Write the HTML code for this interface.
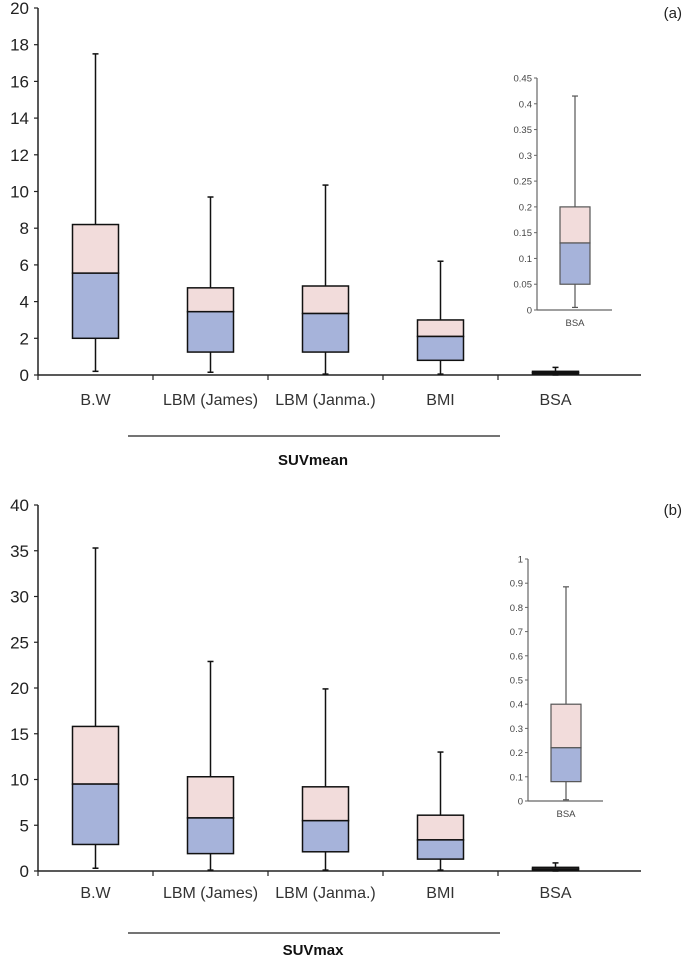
<!DOCTYPE html>
<html><head><meta charset="utf-8">
<style>
body{margin:0;background:#fff;}
svg{display:block;font-family:"Liberation Sans",Arial,sans-serif;}
</style></head>
<body>
<svg id="c" width="685" height="966" viewBox="0 0 685 966"></svg>
<script>
const categories = ["B.W","LBM (James)","LBM (Janma.)","BMI","BSA"];
// [min, q1, median, q3, max]
const meanMin = [0.2, 0.15, 0.05, 0.05, 0.005];
const meanQ1  = [2.0, 1.25, 1.25, 0.8, 0.05];
const meanMed = [5.55, 3.45, 3.35, 2.1, 0.13];
const meanQ3  = [8.2, 4.75, 4.85, 3.0, 0.2];
const meanMax = [17.5, 9.7, 10.35, 6.2, 0.415];
const maxMin = [0.3, 0.1, 0.1, 0.1, 0.005];
const maxQ1  = [2.9, 1.9, 2.1, 1.3, 0.08];
const maxMed = [9.5, 5.8, 5.5, 3.4, 0.22];
const maxQ3  = [15.8, 10.3, 9.2, 6.1, 0.4];
const maxMax = [35.3, 22.9, 19.9, 13.0, 0.885];
const meanTicks = [0,2,4,6,8,10,12,14,16,18,20];
const maxTicks = [0,5,10,15,20,25,30,35,40];
const meanInsetTicks = [0,0.05,0.1,0.15,0.2,0.25,0.3,0.35,0.4,0.45];
const maxInsetTicks = [0,0.1,0.2,0.3,0.4,0.5,0.6,0.7,0.8,0.9,1];

const NS="http://www.w3.org/2000/svg";
const svg=document.getElementById('c');
function el(tag,attrs,parent,text){
  const e=document.createElementNS(NS,tag);
  for(const k in attrs)e.setAttribute(k,attrs[k]);
  if(text!==undefined)e.textContent=text;
  (parent||svg).appendChild(e);return e;
}
const PINK="#f2dcdb", BLUE="#a6b3da";

function drawBox(g,cx,w,ys,q,stroke,sw,name){
  const [mn,q1,md,q3,mx]=q;
  const b=el('g',{},g);
  
  
  el('line',{x1:cx,x2:cx,y1:ys(mx),y2:ys(q3),stroke:stroke,'stroke-width':sw},b);
  el('line',{x1:cx,x2:cx,y1:ys(q1),y2:ys(mn),stroke:stroke,'stroke-width':sw},b);
  el('line',{x1:cx-3,x2:cx+3,y1:ys(mx),y2:ys(mx),stroke:stroke,'stroke-width':sw},b);
  el('line',{x1:cx-3,x2:cx+3,y1:ys(mn),y2:ys(mn),stroke:stroke,'stroke-width':sw},b);
  el('rect',{x:cx-w/2,y:ys(q3),width:w,height:Math.max(0.5,ys(md)-ys(q3)),fill:PINK,stroke:stroke,'stroke-width':sw},b);
  el('rect',{x:cx-w/2,y:ys(md),width:w,height:Math.max(0.5,ys(q1)-ys(md)),fill:BLUE,stroke:stroke,'stroke-width':sw},b);
}

function panel(cfg){
  const g=el('g',{});
  
  
  const ax=38, y0=cfg.y0, yTop=cfg.yTop, vmax=cfg.ticks[cfg.ticks.length-1];
  const ys=v=>y0-(v/vmax)*(y0-yTop);
  const cw=115;
  const ya=el('g',{},g);
  
  
  el('line',{x1:ax,x2:ax,y1:yTop,y2:y0,stroke:'#222','stroke-width':1.5},ya);
  cfg.ticks.forEach(t=>{
    el('line',{x1:ax-4,x2:ax,y1:ys(t),y2:ys(t),stroke:'#222','stroke-width':1.2},ya);
    const tx=el('text',{x:ax-9,y:ys(t)+6,'text-anchor':'end','font-size':17,fill:'#222'},ya,String(t));
    
    
  });
  const xa=el('g',{},g);
  
  
  el('line',{x1:ax,x2:641,y1:y0,y2:y0,stroke:'#222','stroke-width':1.5},xa);
  for(let i=0;i<=4;i++){el('line',{x1:ax+cw*i,x2:ax+cw*i,y1:y0,y2:y0+5,stroke:'#222','stroke-width':1.2},xa);}
  categories.forEach((c,i)=>{
    const tx=el('text',{x:ax+cw*(i+0.5),y:y0+cfg.labOff,'text-anchor':'middle','font-size':16,fill:'#333'},xa,c);
    
    
  });
  categories.forEach((c,i)=>{
    drawBox(g,ax+cw*(i+0.5),46,ys,[cfg.mn[i],cfg.q1[i],cfg.md[i],cfg.q3[i],cfg.mx[i]],'#111',1.5,'box-'+i);
  });
  el('line',{x1:128,x2:500,y1:cfg.lineY,y2:cfg.lineY,stroke:'#222','stroke-width':1.2},g);
  const tt=el('text',{x:313,y:cfg.lineY+cfg.titleOff,'text-anchor':'middle','font-size':15,'font-weight':'bold',fill:'#111'},g,cfg.title);
  
  
  const pl=el('text',{x:682,y:cfg.yTop+10,'text-anchor':'end','font-size':15,fill:'#222'},g,cfg.tag);
  
  
  const ig=el('g',{},g);
  
  
  const iax=cfg.inX, iy0=cfg.inY0, iyT=cfg.inYT, ivmax=cfg.inTicks[cfg.inTicks.length-1];
  const iys=v=>iy0-(v/ivmax)*(iy0-iyT);
  el('line',{x1:iax,x2:iax,y1:iyT,y2:iy0,stroke:'#666','stroke-width':1.2},ig);
  el('line',{x1:iax,x2:iax+75,y1:iy0,y2:iy0,stroke:'#666','stroke-width':1.2},ig);
  cfg.inTicks.forEach(t=>{
    el('line',{x1:iax-3,x2:iax,y1:iys(t),y2:iys(t),stroke:'#666','stroke-width':1},ig);
    el('text',{x:iax-5,y:iys(t)+3.5,'text-anchor':'end','font-size':9.5,fill:'#444'},ig,String(t));
  });
  const i=4;
  drawBox(ig,iax+38,30,iys,[cfg.mn[i],cfg.q1[i],cfg.md[i],cfg.q3[i],cfg.mx[i]],'#555',1.2,'inset-box-bsa');
  el('text',{x:iax+38,y:iy0+16,'text-anchor':'middle','font-size':9.5,fill:'#444'},ig,'BSA');
}

panel({name:'suvmean-panel',y0:375,yTop:8,ticks:meanTicks,labOff:30,lineY:436,titleOff:29,title:'SUVmean',tag:'(a)',
  mn:meanMin,q1:meanQ1,md:meanMed,q3:meanQ3,mx:meanMax,inX:537,inY0:310,inYT:78,inTicks:meanInsetTicks});
panel({name:'suvmax-panel',y0:871,yTop:505,ticks:maxTicks,labOff:27,lineY:933,titleOff:22,title:'SUVmax',tag:'(b)',
  mn:maxMin,q1:maxQ1,md:maxMed,q3:maxQ3,mx:maxMax,inX:528,inY0:801,inYT:559,inTicks:maxInsetTicks});
</script>
</body></html>
